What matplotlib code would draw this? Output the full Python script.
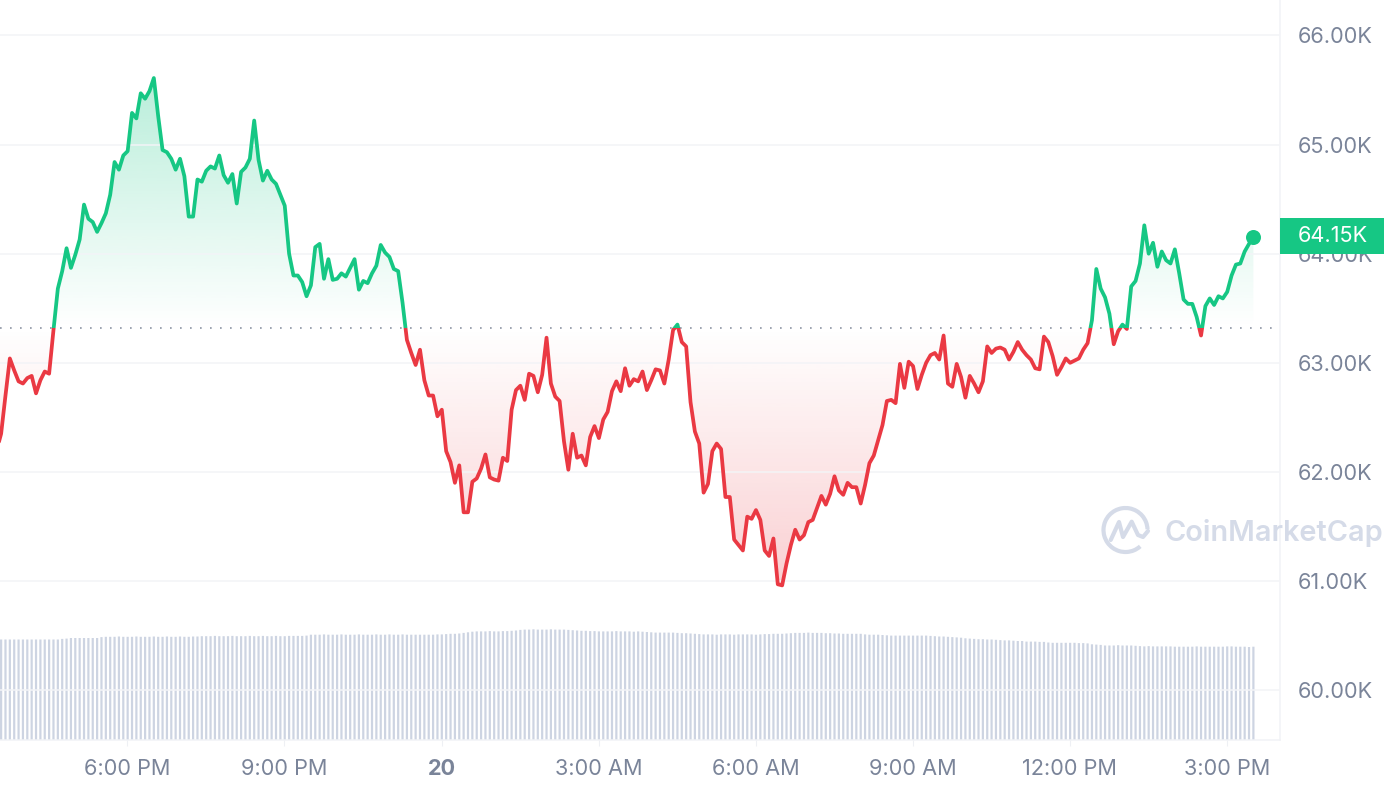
import numpy as np
import matplotlib
matplotlib.use("Agg")
import matplotlib.pyplot as plt
from matplotlib.patches import Rectangle, Arc

plt.rcParams['font.family'] = ['Inter', 'DejaVu Sans']

# ---- data (prices in thousands of USD, one reading every 5 minutes) ----
price_a = [62.20, 62.35, 62.70, 63.04, 62.93, 62.83, 62.81, 62.86, 62.88, 62.72, 62.84, 62.92, 62.90, 63.30]
price_b = [63.68, 63.84, 64.05, 63.87, 63.99, 64.13, 64.45, 64.32, 64.29, 64.20, 64.28, 64.37, 64.54, 64.84,
           64.77, 64.90, 64.94, 65.29, 65.24, 65.47, 65.42, 65.49, 65.61, 65.26, 64.95, 64.93, 64.87, 64.77,
           64.87, 64.71, 64.34, 64.34, 64.68, 64.66, 64.76, 64.80, 64.78, 64.90, 64.72, 64.65, 64.73, 64.46,
           64.75, 64.79, 64.87, 65.22, 64.86, 64.67, 64.76, 64.68, 64.64, 64.54, 64.44, 64.00, 63.80, 63.80,
           63.74, 63.61, 63.71, 64.06, 64.09, 63.77, 63.95, 63.76, 63.77, 63.82, 63.79, 63.87, 63.95, 63.67,
           63.75, 63.73, 63.82, 63.89, 64.08, 64.01, 63.97, 63.86, 63.84, 63.55]
price_c = [63.21, 63.09, 62.98, 63.12, 62.84, 62.70, 62.70, 62.51, 62.57, 62.19, 62.09, 61.90, 62.06, 61.63,
           61.63, 61.91, 61.94, 62.03, 62.16, 61.95, 61.93, 61.92, 62.13, 62.10, 62.57, 62.75, 62.79, 62.66,
           62.90, 62.88, 62.73, 62.89, 63.23, 62.81, 62.69, 62.65, 62.28, 62.02, 62.35, 62.13, 62.15, 62.06,
           62.32, 62.42, 62.31, 62.48, 62.55, 62.74, 62.83, 62.74, 62.95, 62.79, 62.85, 62.83, 62.92, 62.75,
           62.84, 62.94, 62.93, 62.81, 63.03, 63.30, 63.35, 63.19, 63.15, 62.64, 62.37, 62.26, 61.81, 61.89,
           62.19, 62.26, 62.21, 61.77, 61.77, 61.38, 61.33, 61.28, 61.59, 61.57, 61.65, 61.56, 61.28, 61.23,
           61.39, 60.97, 60.96, 61.16, 61.33, 61.47, 61.38, 61.42, 61.54, 61.56, 61.67]
price_d = [61.78, 61.70, 61.80, 61.96, 61.83, 61.79, 61.90, 61.86, 61.86, 61.71, 61.88, 62.08, 62.15, 62.29,
           62.43, 62.65, 62.66, 62.63, 62.99, 62.77, 63.01, 62.97, 62.76, 62.89, 63.00, 63.07, 63.09, 63.03,
           63.25, 62.81, 62.78, 62.99, 62.87, 62.68, 62.88, 62.81, 62.73, 62.83, 63.15, 63.09, 63.13, 63.14,
           63.12, 63.03, 63.10, 63.19, 63.12, 63.07, 63.03, 62.95, 62.94, 63.24, 63.19, 63.06, 62.89, 62.96,
           63.04, 63.00, 63.02, 63.04, 63.12, 63.18, 63.39, 63.86, 63.68, 63.60, 63.45, 63.17, 63.29, 63.35,
           63.31, 63.70, 63.75, 63.91, 64.26, 64.00, 64.10, 63.88, 64.02, 63.94, 63.91, 64.04, 63.82, 63.58,
           63.54, 63.54, 63.42, 63.25, 63.52, 63.59, 63.53, 63.61, 63.59, 63.65, 63.80]
price_e = [63.90, 63.91, 64.02, 64.09, 64.15]
prices = np.array(price_a + price_b + price_c + price_d + price_e)

volume = [33.5, 33.5, 33.5, 33.5, 33.5, 33.5, 33.5, 33.5, 33.5, 33.5, 33.5, 33.5, 33.5, 33.5, 33.5,
          33.7, 33.8, 34.0, 34.0, 34.0, 34.0, 34.0, 34.0, 34.0,
          34.3, 34.4, 34.4, 34.4, 34.5, 34.4, 34.4, 34.4, 34.5, 34.4, 34.4, 34.4, 34.5, 34.4, 34.4, 34.5, 34.4, 34.4, 34.5, 34.4, 34.4, 34.5, 34.5,
          34.6, 34.6, 34.6, 34.7, 34.6, 34.6, 34.6, 34.7, 34.6, 34.6, 34.6, 34.7, 34.6, 34.6, 34.7, 34.6, 34.6, 34.7, 34.6, 34.6, 34.7, 34.7, 34.7, 34.7, 34.8,
          35.1, 35.1, 35.1, 35.2, 35.1, 35.1, 35.1, 35.2, 35.1, 35.1, 35.1, 35.2, 35.1, 35.1, 35.1, 35.2, 35.1, 35.1, 35.2, 35.1, 35.1, 35.2, 35.1, 35.1, 35.1, 35.1,
          35.1, 35.1, 35.1, 35.2, 35.2, 35.3,
          35.4, 35.4, 35.5, 35.7, 35.9, 36.1, 36.2,
          36.2, 36.2, 36.3, 36.2, 36.2, 36.3, 36.3, 36.4, 36.5, 36.7,
          36.8, 36.8, 36.9, 36.8, 36.8, 36.8, 36.9, 36.8, 36.8, 36.8,
          36.7, 36.6, 36.5, 36.4, 36.4, 36.3, 36.3, 36.2, 36.2,
          36.2, 36.2, 36.3, 36.2, 36.2, 36.2, 36.1, 36.2, 36.1,
          36.0, 35.9, 35.8, 35.8, 35.8, 35.8, 35.8, 35.7, 35.6, 35.6, 35.5, 35.4, 35.3,
          35.2, 35.2, 35.2, 35.1, 35.2, 35.2, 35.2, 35.1, 35.2, 35.2, 35.2, 35.2, 35.1, 35.2,
          35.3, 35.3, 35.4, 35.4, 35.4, 35.5, 35.6,
          35.7, 35.7, 35.7, 35.8, 35.7, 35.7, 35.7, 35.6, 35.6,
          35.5, 35.5, 35.4, 35.4, 35.4, 35.4, 35.4,
          35.2, 35.1, 35.1, 35.1, 35.0,
          34.9, 34.8, 34.8, 34.8, 34.8, 34.8, 34.8, 34.8, 34.8, 34.8, 34.7,
          34.6, 34.5, 34.5, 34.4, 34.3, 34.2, 34.1,
          33.9, 33.8, 33.7, 33.6, 33.6, 33.5, 33.5, 33.4, 33.3,
          33.2, 33.2, 33.1, 33.0, 33.0,
          32.8, 32.8, 32.8, 32.7, 32.7,
          32.5, 32.4, 32.4, 32.4, 32.4, 32.4, 32.4, 32.3, 32.3, 32.2,
          31.9, 31.8, 31.7,
          31.5, 31.5, 31.5, 31.6, 31.5, 31.5, 31.5, 31.4,
          31.3, 31.2, 31.3, 31.2, 31.2, 31.2, 31.2, 31.2,
          31.1, 31.1, 31.1, 31.1, 31.1, 31.2, 31.1, 31.1, 31.1, 31.1, 31.1, 31.1, 31.2, 31.2, 31.1, 31.1, 31.1, 31.0, 31.1]

open_price = 63.32
last_hour = 15.506
x_ticks = [-6, -3, 0, 3, 6, 9, 12, 15]
x_labels = ['6:00 PM', '9:00 PM', '20', '3:00 AM', '6:00 AM', '9:00 AM', '12:00 PM', '3:00 PM']
y_ticks = [60, 61, 62, 63, 64, 65, 66]
y_labels = ['60.00K', '61.00K', '62.00K', '63.00K', '64.00K', '65.00K', '66.00K']

GREEN = '#16c784'
RED = '#ea3943'
TXT = '#7a8499'
GRID = '#f3f4f7'

hours = last_hour - (len(prices) - 1 - np.arange(len(prices))) * 5 / 60
vol_hours = hours[:len(volume)]

W, H = 1392, 792
fig = plt.figure(figsize=(W / 100, H / 100), dpi=100, facecolor='white')
ax = fig.add_axes([0, (H - 740) / H, 1280 / W, 740 / H])
ax2 = ax.twinx()
ax.set_zorder(2)
ax2.set_zorder(1)
ax.patch.set_visible(False)

xlim = (-441.5 / 52.36, (1280 - 441.5) / 52.36)
ylim = (59.543, 66.325)

# volume bars
bars = ax2.bar(vol_hours, volume, width=2.2 / 52.36, color='#cdd4e2', linewidth=0)
for b in bars:
    b.set_snap(False)
ax2.set_ylim(0, 740 / 3)
ax2.set_yticks([])
for s in ax2.spines.values():
    s.set_visible(False)

# gradient fills clipped to the area between the price line and the opening price
poly = ax.fill_between(hours, prices, open_price, facecolor='none', edgecolor='none')
clip_path = poly.get_paths()[0]


def gradient(color, low_alpha, high_alpha, y0, y1):
    rgb = matplotlib.colors.to_rgb(color)
    g = np.zeros((256, 1, 4))
    g[..., 0], g[..., 1], g[..., 2] = rgb
    g[:, 0, 3] = np.linspace(low_alpha, high_alpha, 256)
    im = ax.imshow(g, origin='lower', aspect='auto', interpolation='bilinear',
                   extent=(hours[0], hours[-1], y0, y1), zorder=1)
    im.set_clip_path(clip_path, transform=ax.transData)


gradient(GREEN, 0.0, 0.30, open_price, prices.max())
gradient(RED, 0.24, 0.0, prices.min(), open_price)

# baseline
ax.axhline(open_price, xmax=1274 / 1280, color='#8b93a3', lw=1.2, linestyle=(0, (1, 5)), zorder=2)

# price line in two colours
for color, y0, y1 in ((GREEN, open_price, ylim[1]), (RED, ylim[0], open_price)):
    line, = ax.plot(hours, prices, color=color, lw=2.7, solid_joinstyle='round', solid_capstyle='round', zorder=3)
    line.set_clip_path(Rectangle((xlim[0], y0), xlim[1] - xlim[0], y1 - y0, transform=ax.transData))
ax.plot(hours[-1], prices[-1], 'o', color=GREEN, ms=10.8, mew=0, zorder=4)

ax.set_xlim(*xlim)
ax.set_ylim(*ylim)
ax.set_xticks(x_ticks, x_labels)
ax.yaxis.tick_right()
ax.set_yticks(y_ticks, y_labels)
ax.grid(axis='y', color=GRID, lw=1.1, zorder=0)
ax.set_axisbelow(False)
for g in ax.get_ygridlines():
    g.set_zorder(0.5)
ax.tick_params(axis='y', length=0, pad=13, labelsize=15.6, labelcolor=TXT)
ax.tick_params(axis='x', length=4, width=0.8, color='#eef0f4', pad=10, labelsize=15.6, labelcolor=TXT)
for lab in ax.get_xticklabels():
    if lab.get_text() == '20':
        lab.set_fontweight('bold')
for name in ('top', 'left'):
    ax.spines[name].set_visible(False)
for name in ('right', 'bottom'):
    ax.spines[name].set_color('#f1f3f6')
    ax.spines[name].set_linewidth(1.1)

# overlay in pixel space: last-price tag and watermark
ov = fig.add_axes([0, 0, 1, 1], zorder=5)
ov.set_xlim(0, W)
ov.set_ylim(H, 0)
ov.axis('off')
ov.add_patch(Rectangle((1280, 218), 104, 36, facecolor=GREEN, edgecolor='none'))
ov.text(1298, 236.5, f'{prices[-1]:.2f}K', color='white', fontsize=15.6, va='center', ha='left')

WM = '#d5dbe8'
ov.add_patch(Arc((1125.5, 530), 44, 44, theta1=48, theta2=358, color=WM, lw=3.0))
ov.plot([1110.7, 1119, 1123, 1131.7, 1138, 1143, 1148],
        [540, 522, 537, 521.7, 535, 537, 531],
        color=WM, lw=3.0, solid_joinstyle='round', solid_capstyle='round')
ov.text(1165, 533, 'CoinMarketCap', color=WM, fontsize=20.8, fontweight='semibold', va='center', ha='left')

fig.savefig('out.png', dpi=100)
